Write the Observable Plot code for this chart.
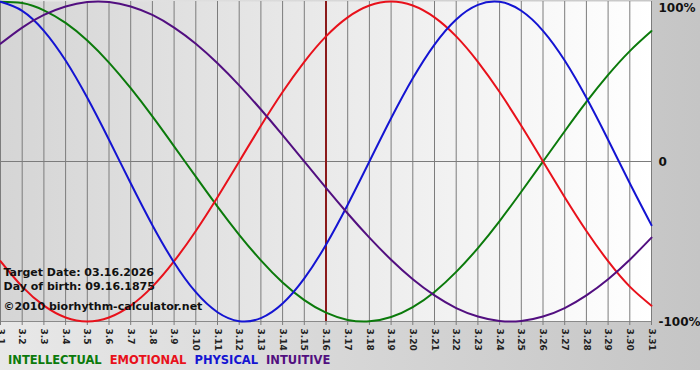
<!DOCTYPE html>
<html><head><meta charset="utf-8">
<script src="https://cdn.jsdelivr.net/npm/d3@7"></script>
<script src="https://cdn.jsdelivr.net/npm/@observablehq/plot@0.6"></script>
<style>
body{margin:0;background:#fff;font-family:"DejaVu Sans",Verdana,sans-serif;}
#wrap{position:relative;width:700px;height:370px;background:linear-gradient(to right,#e8e8e8,#c5c5c5);overflow:hidden}
#chart svg{display:block}
#legend{position:absolute;left:8px;top:353px;font-weight:bold;font-size:11.5px;white-space:nowrap;letter-spacing:0px}
#legend span{margin-right:8px}
</style></head><body>
<div id="wrap"><div id="chart"></div><div id="legend"></div></div>
<script>
const days = [1,2,3,4,5,6,7,8,9,10,11,12,13,14,15,16,17,18,19,20,21,22,23,24,25,26,27,28,29,30,31];
const dayLabels = ["3.1","3.2","3.3","3.4","3.5","3.6","3.7","3.8","3.9","3.10","3.11","3.12","3.13","3.14","3.15","3.16","3.17","3.18","3.19","3.20","3.21","3.22","3.23","3.24","3.25","3.26","3.27","3.28","3.29","3.30","3.31"];
const intellectual = [99.9,99.0,94.5,86.6,75.6,61.8,45.8,28.2,9.5,-9.5,-28.2,-45.8,-61.8,-75.6,-86.6,-94.5,-99.0,-99.9,-97.2,-91.0,-81.5,-69.0,-54.1,-37.2,-18.9,0,18.9,37.2,54.1,69.0,81.5];
const emotional = [-62.3,-78.2,-90.1,-97.5,-100,-97.5,-90.1,-78.2,-62.3,-43.4,-22.3,0,22.3,43.4,62.3,78.2,90.1,97.5,100,97.5,90.1,78.2,62.3,43.4,22.3,0,-22.3,-43.4,-62.3,-78.2,-90.1];
const physical = [99.8,94.2,81.7,63.1,39.8,13.6,-13.6,-39.8,-63.1,-81.7,-94.2,-99.8,-97.9,-88.8,-73.1,-52.0,-27.0,0,27.0,52.0,73.1,88.8,97.9,99.8,94.2,81.7,63.1,39.8,13.6,-13.6,-39.8];
const intuitive = [73.6,83.7,91.6,96.9,99.7,99.7,96.9,91.6,83.7,73.6,61.4,47.6,32.5,16.5,0,-16.5,-32.5,-47.6,-61.4,-73.6,-83.7,-91.6,-96.9,-99.7,-99.7,-96.9,-91.6,-83.7,-73.6,-61.4,-47.6];
const seriesNames = ["INTELLECTUAL","EMOTIONAL","PHYSICAL","INTUITIVE"];
const seriesColors = ["#0b7a0b","#e8111b","#1414d2","#520f80"];
const targetDay = 16;
const yTicks = [-100, 0, 100];
const yTickLabels = ["-100%", "0", "100%"];
const infoLines = ["Target Date: 03.16.2026", "Day of birth: 09.16.1875", "\u00A92010 biorhythm-calculator.net"];

const seriesValues = [intellectual, emotional, physical, intuitive];
const rows = [];
seriesNames.forEach((s, i) => days.forEach((d, j) => rows.push({series: s, day: d, value: seriesValues[i][j]})));

const rightLabel = (data, dy) => Plot.text(data, {
  x: () => days[days.length - 1], y: d => d, text: d => yTickLabels[yTicks.indexOf(d)],
  dx: 7, dy, textAnchor: "start", fontSize: 12, fontWeight: "bold", fill: "#111"
});

const chart = Plot.plot({
  width: 700, height: 370,
  marginLeft: 0, marginRight: 49, marginTop: 1, marginBottom: 49,
  style: {background: "transparent", fontFamily: "DejaVu Sans, Verdana, sans-serif", overflow: "visible"},
  x: {domain: [1, 31], axis: null},
  y: {domain: [-100, 100], axis: null},
  color: {domain: seriesNames, range: seriesColors},
  marks: [
    Plot.frame({fill: "url(#plotbg)", stroke: null}),
    Plot.ruleX(days, {x: d => d, y1: -100, y2: 100, stroke: "#7c7c7c", strokeWidth: 1}),
    Plot.ruleY([0], {stroke: "#7c7c7c"}),
    Plot.ruleY([-100], {stroke: "#8a8a8a"}),
    Plot.axisX({ticks: days, tickFormat: d => dayLabels[days.indexOf(d)], tickRotate: 90, tickSize: 4, tickPadding: 3,
      stroke: "#7c7c7c", fill: "#222", fontSize: 9, fontWeight: "bold", label: null}),
    Plot.ruleX([targetDay], {y1: -100, y2: 100, stroke: "#8b1a1a", strokeWidth: 2}),
    Plot.line(rows, {x: "day", y: "value", z: "series", stroke: "series", strokeWidth: 2, curve: "natural"}),
    rightLabel(yTicks.filter(d => d < 100), 1),
    rightLabel(yTicks.filter(d => d === 100), 7),
    Plot.text([infoLines[0]], {text: d => d, frameAnchor: "top-left", dx: 3, dy: 271, lineAnchor: "middle", textAnchor: "start", fontSize: 11, fontWeight: "bold", fill: "#111"}),
    Plot.text([infoLines[1]], {text: d => d, frameAnchor: "top-left", dx: 3, dy: 285, lineAnchor: "middle", textAnchor: "start", fontSize: 11, fontWeight: "bold", fill: "#111"}),
    Plot.text([infoLines[2]], {text: d => d, frameAnchor: "top-left", dx: 3, dy: 305, lineAnchor: "middle", textAnchor: "start", fontSize: 11, fontWeight: "bold", fill: "#111"})
  ]
});

const defs = d3.select(chart).insert("defs", ":first-child");
const grad = defs.append("linearGradient").attr("id", "plotbg").attr("x1", "0").attr("x2", "1").attr("y1", "0").attr("y2", "0");
grad.append("stop").attr("offset", "0").attr("stop-color", "#d5d5d5");
grad.append("stop").attr("offset", "1").attr("stop-color", "#ffffff");

document.getElementById("chart").appendChild(chart);
const legend = document.getElementById("legend");
seriesNames.forEach((s, i) => {
  const sp = document.createElement("span");
  sp.textContent = s;
  sp.style.color = seriesColors[i];
  legend.appendChild(sp);
});
</script>
</body></html>
